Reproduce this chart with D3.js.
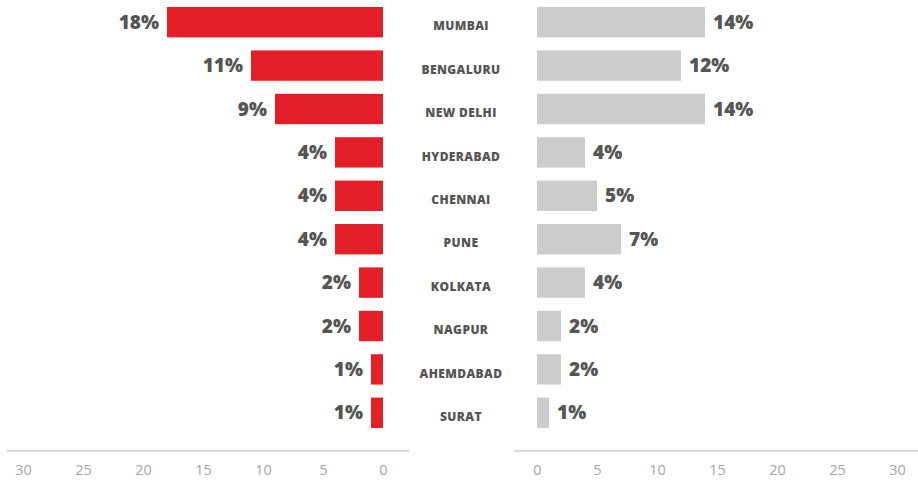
<!DOCTYPE html>
<html>
<head>
<meta charset="utf-8">
<script src="https://cdn.jsdelivr.net/npm/d3@7"></script>
<style>
  html, body { margin: 0; padding: 0; background: #fff; }
  svg { display: block; }
</style>
</head>
<body>
<svg id="chart" width="918" height="481"></svg>
<script>
// City shares (%) — left series in red, right series in grey
const cities = ["MUMBAI", "BENGALURU", "NEW DELHI", "HYDERABAD", "CHENNAI",
                "PUNE", "KOLKATA", "NAGPUR", "AHEMDABAD", "SURAT"];
const leftValues  = [18, 11, 9, 4, 4, 4, 2, 2, 1, 1];
const rightValues = [14, 12, 14, 4, 5, 7, 4, 2, 2, 1];
const tickValues  = [0, 5, 10, 15, 20, 25, 30];

const svg = d3.select("#chart");
const font = "'Open Sans', sans-serif";
const textColor = "#555555";

const y = d3.scaleBand()
  .domain(cities)
  .range([0.5, 434.5])
  .paddingInner(0.3)
  .paddingOuter(0.15);

const xLeft  = d3.scaleLinear().domain([0, 30]).range([383, 23]);
const xRight = d3.scaleLinear().domain([0, 30]).range([537, 897]);

// Left bars (grow leftwards from zero)
svg.append("g").selectAll("rect")
  .data(leftValues)
  .join("rect")
  .attr("x", d => xLeft(d))
  .attr("y", (d, i) => y(cities[i]))
  .attr("width", d => xLeft(0) - xLeft(d))
  .attr("height", y.bandwidth())
  .attr("fill", "#e41e26");

svg.append("g").selectAll("text")
  .data(leftValues)
  .join("text")
  .attr("x", d => xLeft(d) - 8)
  .attr("y", (d, i) => y(cities[i]) + y.bandwidth() / 2)
  .attr("dy", "0.35em")
  .attr("text-anchor", "end")
  .attr("font-family", font)
  .attr("font-weight", 800)
  .attr("font-size", 19)
  .attr("fill", textColor)
  .text(d => d + "%");

// Right bars
svg.append("g").selectAll("rect")
  .data(rightValues)
  .join("rect")
  .attr("x", xRight(0))
  .attr("y", (d, i) => y(cities[i]))
  .attr("width", d => xRight(d) - xRight(0))
  .attr("height", y.bandwidth())
  .attr("fill", "#cccccc");

svg.append("g").selectAll("text")
  .data(rightValues)
  .join("text")
  .attr("x", d => xRight(d) + 8)
  .attr("y", (d, i) => y(cities[i]) + y.bandwidth() / 2)
  .attr("dy", "0.35em")
  .attr("font-family", font)
  .attr("font-weight", 800)
  .attr("font-size", 19)
  .attr("fill", textColor)
  .text(d => d + "%");

// City names in the centre column
svg.append("g").selectAll("text")
  .data(cities)
  .join("text")
  .attr("x", 461)
  .attr("y", d => y(d) + y.bandwidth() / 2 + 4)
  .attr("dy", "0.35em")
  .attr("text-anchor", "middle")
  .attr("font-family", font)
  .attr("font-weight", 800)
  .attr("font-size", 12)
  .attr("letter-spacing", 0.4)
  .attr("fill", textColor)
  .text(d => d);

// Bottom axes
function styleAxis(g) {
  g.select(".domain").remove();
  g.selectAll(".tick line").remove();
  g.selectAll(".tick text")
    .attr("font-family", font)
    .attr("font-weight", 400)
    .attr("font-size", 14.5)
    .attr("fill", "#a6a6a6")
    .attr("dy", "0.71em")
    .attr("y", 14);
}

svg.append("g")
  .attr("transform", "translate(0,451)")
  .call(d3.axisBottom(xLeft).tickValues(tickValues).tickFormat(d3.format("d")))
  .call(styleAxis);

svg.append("g")
  .attr("transform", "translate(0,451)")
  .call(d3.axisBottom(xRight).tickValues(tickValues).tickFormat(d3.format("d")))
  .call(styleAxis);

svg.append("line")
  .attr("x1", 7).attr("x2", 409).attr("y1", 451).attr("y2", 451)
  .attr("stroke", "#cfcfcf").attr("stroke-width", 1.5);
svg.append("line")
  .attr("x1", 514).attr("x2", 918).attr("y1", 451).attr("y2", 451)
  .attr("stroke", "#cfcfcf").attr("stroke-width", 1.5);
</script>
</body>
</html>
